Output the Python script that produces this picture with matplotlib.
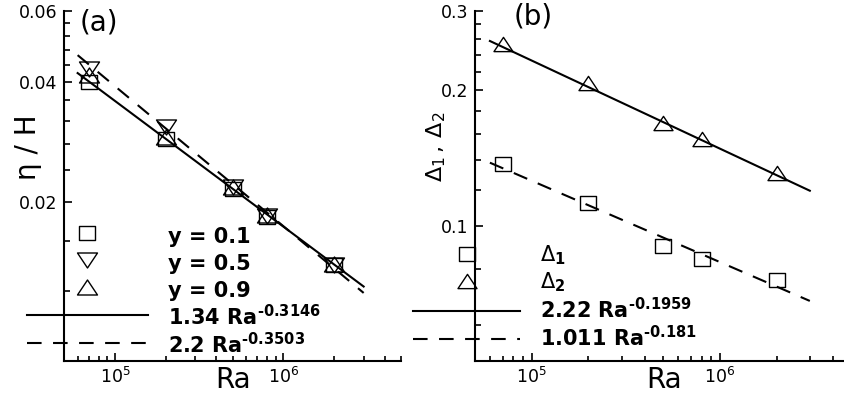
import matplotlib
matplotlib.use("Agg")
import matplotlib.pyplot as plt
from matplotlib.path import Path
from matplotlib.ticker import FixedLocator, FixedFormatter, NullFormatter, LogLocator, LogFormatterSciNotation

plt.rcParams['font.family'] = ['DejaVu Sans']

# ---------------- data ----------------
Ra = [7e4, 2e5, 5e5, 8e5, 2e6]
eta_y01 = [0.0399, 0.0287, 0.0216, 0.0184, 0.0139]
eta_y05 = [0.0430, 0.0308, 0.0218, 0.0185, 0.0139]
eta_y09 = [0.0415, 0.0291, 0.0218, 0.0186, 0.0140]

fit_Ra = [6e4, 3e6]
fit_a_solid = [0.04207, 0.01229]    # 1.34 Ra^-0.3146
fit_a_dashed = [0.04665, 0.011845]  # 2.2 Ra^-0.3503

delta1 = [0.137, 0.112, 0.090, 0.0845, 0.0758]
delta2 = [0.253, 0.207, 0.169, 0.156, 0.131]
fit_b_solid = [0.2573, 0.11955]     # 2.22 Ra^-0.1959
fit_b_dashed = [0.1380, 0.0680]     # 1.011 Ra^-0.181

a_yticks = [0.02, 0.04, 0.06]
a_yticklabels = ['0.02', '0.04', '0.06']
a_yminor = [0.008, 0.012, 0.016, 0.024, 0.028, 0.032, 0.036, 0.044, 0.048, 0.052, 0.056]
b_yticks = [0.1, 0.2, 0.3]
b_yticklabels = ['0.1', '0.2', '0.3']
b_yminor = [0.06, 0.08, 0.12, 0.14, 0.16, 0.18, 0.22, 0.24, 0.26, 0.28]

labels_a = ['y = 0.1', 'y = 0.5', 'y = 0.9',
            r'1.34 Ra$^{\mathbf{‐0.3146}}$', r'2.2 Ra$^{\mathbf{‐0.3503}}$']
labels_b = [r'$\mathrm{\Delta}_{\mathbf{1}}$', r'$\mathrm{\Delta}_{\mathbf{2}}$',
            r'2.22 Ra$^{\mathbf{‐0.1959}}$', r'1.011 Ra$^{\mathbf{‐0.181}}$']

# ---------------- markers (wide, like the original) ----------------
sq = Path([(-1, -0.82), (1, -0.82), (1, 0.82), (-1, 0.82), (-1, -0.82)], closed=True)
tri_dn = Path([(-1, 0.75), (1, 0.75), (0, -0.75), (-1, 0.75)], closed=True)
tri_up = Path([(-1, -0.75), (1, -0.75), (0, 0.75), (-1, -0.75)], closed=True)

W, H = 845, 401
fig = plt.figure(figsize=(W / 100, H / 100), dpi=100)
axa = fig.add_axes([64.3 / W, 40 / H, 336.7 / W, 349.5 / H])
axb = fig.add_axes([475 / W, 40 / H, 376.6 / W, 350 / H])

mk = dict(linestyle='none', fillstyle='none', color='black', mew=1.0)
dash = (7, 5.5)

def style(ax, ylim, yt, ytl, ymin):
    ax.set_xscale('log')
    ax.set_yscale('log')
    ax.set_xlim(5e4, 5e6)
    ax.set_ylim(*ylim)
    for s in ['top', 'right']:
        ax.spines[s].set_visible(False)
    for s in ['left', 'bottom']:
        ax.spines[s].set_linewidth(1.5)
    ax.xaxis.set_major_locator(LogLocator(base=10))
    ax.xaxis.set_major_formatter(LogFormatterSciNotation())
    ax.xaxis.set_minor_locator(LogLocator(base=10, subs=[2, 3, 4, 5, 6, 7, 8, 9]))
    ax.xaxis.set_minor_formatter(NullFormatter())
    ax.yaxis.set_major_locator(FixedLocator(yt))
    ax.yaxis.set_major_formatter(FixedFormatter(ytl))
    ax.yaxis.set_minor_locator(FixedLocator(ymin))
    ax.yaxis.set_minor_formatter(NullFormatter())
    ax.tick_params(axis='both', which='both', direction='in', width=1.2, labelsize=12.5)
    ax.tick_params(axis='x', which='major', length=5.8, pad=4)
    ax.tick_params(axis='x', which='minor', length=3.6)
    ax.tick_params(axis='y', which='major', length=5.5, pad=5)
    ax.tick_params(axis='y', which='minor', length=4.5)

# ---------------- panel (a) ----------------
style(axa, (0.008, 0.06), a_yticks, a_yticklabels, a_yminor)
h1, = axa.plot(Ra, eta_y01, marker=sq, ms=12.2, label=labels_a[0], **mk)
h2, = axa.plot(Ra, eta_y05, marker=tri_dn, ms=14.4, label=labels_a[1], **mk)
h3, = axa.plot(Ra, eta_y09, marker=tri_up, ms=14.4, label=labels_a[2], **mk)
h4, = axa.plot(fit_Ra, fit_a_solid, color='black', lw=1.5, label=labels_a[3])
h5, = axa.plot(fit_Ra, fit_a_dashed, color='black', lw=1.5, dashes=dash, label=labels_a[4])
axa.set_xlabel('Ra', fontsize=20)
axa.xaxis.set_label_coords((233 - 64.3) / 336.7, -(380 - 361) / 349.5)
axa.xaxis.label.set_va('center')
axa.set_ylabel('η / H', fontsize=20)
axa.yaxis.set_label_coords((28 - 64.3) / 336.7, (361 - 147) / 349.5)
axa.yaxis.label.set_va('center')
axa.text((99 - 64.3) / 336.7, (361 - 22) / 349.5, '(a)', transform=axa.transAxes,
         fontsize=20, ha='center', va='center')
axa.legend(handles=[h1, h2, h3, h4, h5], loc='lower left',
           bbox_to_anchor=((27 - 64.3) / 336.7, 0.004), frameon=False,
           prop=dict(weight='bold', size=15), handlelength=5.8, handletextpad=0.96,
           handleheight=1.62, labelspacing=0.0, borderpad=0, borderaxespad=0, numpoints=1)

# ---------------- panel (b) ----------------
style(axb, (0.05, 0.3), b_yticks, b_yticklabels, b_yminor)
g1, = axb.plot(Ra, delta1, marker=sq, ms=12.2, label=labels_b[0], **mk)
g2, = axb.plot(Ra, delta2, marker=tri_up, ms=13.7, label=labels_b[1], **mk)
g3, = axb.plot(fit_Ra, fit_b_solid, color='black', lw=1.5, label=labels_b[2])
g4, = axb.plot(fit_Ra, fit_b_dashed, color='black', lw=1.5, dashes=dash, label=labels_b[3])
axb.set_xlabel('Ra', fontsize=20)
axb.xaxis.set_label_coords((664 - 475) / 376.6, -(380 - 361) / 350)
axb.xaxis.label.set_va('center')
axb.set_ylabel(r'$\mathregular{\Delta_1\,,\,\Delta_2}$', fontsize=16)
axb.yaxis.set_label_coords((436 - 475) / 376.6, (361 - 147) / 350)
axb.yaxis.label.set_va('center')
axb.text((533 - 475) / 376.6, (361 - 16) / 350, '(b)', transform=axb.transAxes,
         fontsize=20, ha='center', va='center')
axb.legend(handles=[g1, g2, g3, g4], loc='lower left',
           bbox_to_anchor=((413 - 475) / 376.6, 0.031), frameon=False,
           prop=dict(weight='bold', size=15), handlelength=5.14, handletextpad=0.96,
           labelspacing=0.15, borderpad=0, borderaxespad=0, numpoints=1)

fig.savefig('out.png', dpi=100)
